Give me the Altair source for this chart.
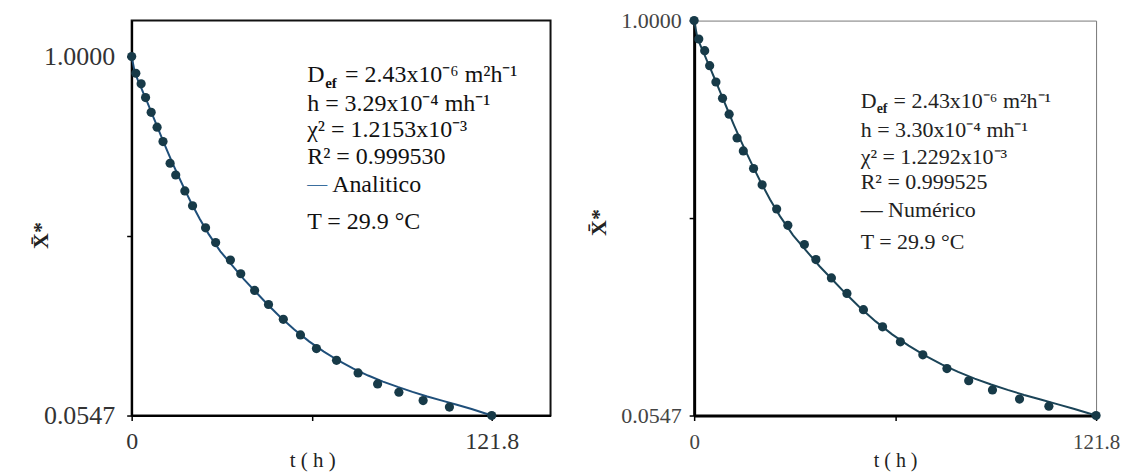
import altair as alt
import pandas as pd

SERIF = "Liberation Serif, Times New Roman, serif"

# experimental points (same data on both panels)
t_obs = [0, 1.4, 3.2, 4.7, 6.6, 8.6, 10.6, 13.0, 14.9, 18.0, 20.6, 25.0, 28.4,
         33.4, 36.9, 41.6, 46.3, 51.3, 57.1, 62.5, 69.3, 76.6, 83.2, 90.4,
         98.6, 107.5, 121.8]
x_obs = [1.000, 0.956, 0.928, 0.892, 0.853, 0.814, 0.776, 0.719, 0.688, 0.646,
         0.607, 0.549, 0.510, 0.464, 0.428, 0.384, 0.347, 0.308, 0.267, 0.231,
         0.200, 0.167, 0.138, 0.116, 0.094, 0.077, 0.0547]

# fitted curves
t_fit = [0, 1, 2, 3, 4, 5, 6, 8, 10, 12, 14, 16, 18, 20, 23, 26, 30, 34, 38,
         42, 46, 50, 55, 60, 65, 70, 75, 80, 85, 90, 95, 100, 105, 110, 115, 121.8]
x_analitico = [1.000, 0.960, 0.940, 0.922, 0.903, 0.885, 0.866, 0.828, 0.790,
               0.752, 0.716, 0.682, 0.649, 0.617, 0.573, 0.533, 0.487, 0.450,
               0.413, 0.380, 0.347, 0.316, 0.281, 0.250, 0.223, 0.199, 0.178,
               0.160, 0.144, 0.130, 0.117, 0.105, 0.094, 0.083, 0.072, 0.0547]
x_numerico = [1.000, 0.958, 0.939, 0.921, 0.902, 0.884, 0.865, 0.827, 0.789,
              0.751, 0.715, 0.681, 0.648, 0.616, 0.572, 0.532, 0.486, 0.449,
              0.412, 0.379, 0.346, 0.315, 0.280, 0.249, 0.222, 0.198, 0.177,
              0.159, 0.143, 0.129, 0.116, 0.104, 0.093, 0.082, 0.071, 0.0547]

y_ticks = [0.0547, 0.52735, 1.0]
x_ticks = [0, 60.9, 121.8]

obs = pd.DataFrame({"t": t_obs, "x": x_obs})
fit_a = pd.DataFrame({"t": t_fit, "x": x_analitico})
fit_n = pd.DataFrame({"t": t_fit, "x": x_numerico})
one = pd.DataFrame({"k": [0]})

YLAB = "datum.value > 0.9 ? '1.0000' : (datum.value < 0.1 ? '0.0547' : '')"
XLAB = "datum.value == 0 ? '0' : (datum.value > 100 ? '121.8' : '')"


def txt(s, x, y, size, color, weight="normal"):
    return alt.Chart(one).mark_text(
        text=s, align="left", baseline="middle", font=SERIF,
        fontSize=size, color=color, fontWeight=weight
    ).encode(x=alt.value(x), y=alt.value(y))


def panel(fit, xdom, ydom, line_color, dom_w, lab_size, xlab_size, lab_color,
          ylab_pad, ytx, yty, xtx, xty, x_lab_pad, xt_size):
    xs = alt.Scale(domain=xdom, nice=False, zero=False)
    ys = alt.Scale(domain=ydom, nice=False, zero=False)
    xax = alt.Axis(values=x_ticks, labelExpr=XLAB, title="t ( h )", grid=False,
                   domainColor="#000", domainWidth=dom_w, tickColor="#000",
                   tickSize=5, tickWidth=1.5, labelFont=SERIF,
                   labelFontSize=xlab_size, labelColor=lab_color,
                   labelFlush=False, labelOverlap=False, labelPadding=x_lab_pad,
                   titleFont=SERIF, titleFontSize=xt_size,
                   titleFontWeight="normal", titleColor="#222",
                   titleX=xtx, titleY=xty, titleBaseline="middle",
                   titleAlign="center")
    yax = alt.Axis(values=y_ticks, labelExpr=YLAB, title="X\u0304*", grid=False,
                   domainColor="#000", domainWidth=dom_w, tickColor="#000",
                   tickSize=5, tickWidth=1.5, labelFont=SERIF,
                   labelFontSize=lab_size, labelColor=lab_color,
                   labelFlush=False, labelOverlap=False, labelPadding=ylab_pad,
                   titleFont=SERIF, titleFontSize=22, titleFontWeight="bold",
                   titleColor="#222", titleX=ytx, titleY=yty,
                   titleBaseline="middle", titleAlign="center")
    line = alt.Chart(fit).mark_line(color=line_color, strokeWidth=2).encode(
        x=alt.X("t:Q", scale=xs, axis=xax),
        y=alt.Y("x:Q", scale=ys, axis=yax),
    )
    pts = alt.Chart(obs).mark_circle(size=85, color="#173a48", opacity=1).encode(
        x=alt.X("t:Q", scale=xs), y=alt.Y("x:Q", scale=ys)
    )
    return line, pts


# ---- left panel (Analitico)
l_line, l_pts = panel(fit_a, [0, 141.7], [0.0547, 1.0946], "#1f4f7a",
                      2, 26, 24, "#333", 12, -91, 215, 181, 45, 9, 21)
LX, LC = 176, "#111"
left_txt = [
    txt("D", LX, 55, 24, LC),
    txt("ef", LX + 18, 63, 15, LC, "bold"),
    txt("= 2.43x10\u207b\u2076  m\u00b2h\u207b\u00b9", LX + 38, 55, 24, LC),
    txt("h = 3.29x10\u207b\u2074 mh\u207b\u00b9", LX, 84, 24, LC),
    txt("\u03c7\u00b2 = 1.2153x10\u207b\u00b3", LX, 110, 24, LC),
    txt("R\u00b2 = 0.999530", LX, 137, 24, LC),
    txt("\u2014", LX, 165, 20, "#3a6e9e"),
    txt("Analitico", LX + 25, 165, 24, LC),
    txt("T = 29.9 \u00b0C", LX, 202, 24, LC),
]
left = alt.layer(l_line, l_pts, *left_txt).properties(
    width=420, height=396,
    view=alt.ViewBackground(stroke="#111", strokeWidth=2),
)

# ---- right panel (Numerico)
r_line, r_pts = panel(fit_n, [0, 121.8], [0.0547, 1.0], "#1b4458",
                      3, 22, 21, "#444", 8, -96, 202, 201.5, 45, 11, 20)
RX, RC = 167, "#222"
right_txt = [
    txt("D", RX, 81, 22, RC),
    txt("ef", RX + 16, 89, 14, RC, "bold"),
    txt("= 2.43x10\u207b\u2076  m\u00b2h\u207b\u00b9", RX + 33, 81, 22, RC),
    txt("h = 3.30x10\u207b\u2074 mh\u207b\u00b9", RX, 110, 22, RC),
    txt("\u03c7\u00b2 = 1.2292x10\u207b\u00b3", RX, 137, 22, RC),
    txt("R\u00b2 = 0.999525", RX, 162, 22, RC),
    txt("\u2014 Num\u00e9rico", RX, 190, 22, RC),
    txt("T = 29.9 \u00b0C", RX, 222, 22, RC),
]
right = alt.layer(r_line, r_pts, *right_txt).properties(
    width=403, height=396,
    view=alt.ViewBackground(stroke="#777", strokeWidth=1),
)

chart = alt.hconcat(left, right, spacing=35).properties(
    padding={"left": 21, "top": 0, "right": 0, "bottom": 0},
    background="white",
)

chart.save("out.html", embed_options={"renderer": "svg", "actions": False})
